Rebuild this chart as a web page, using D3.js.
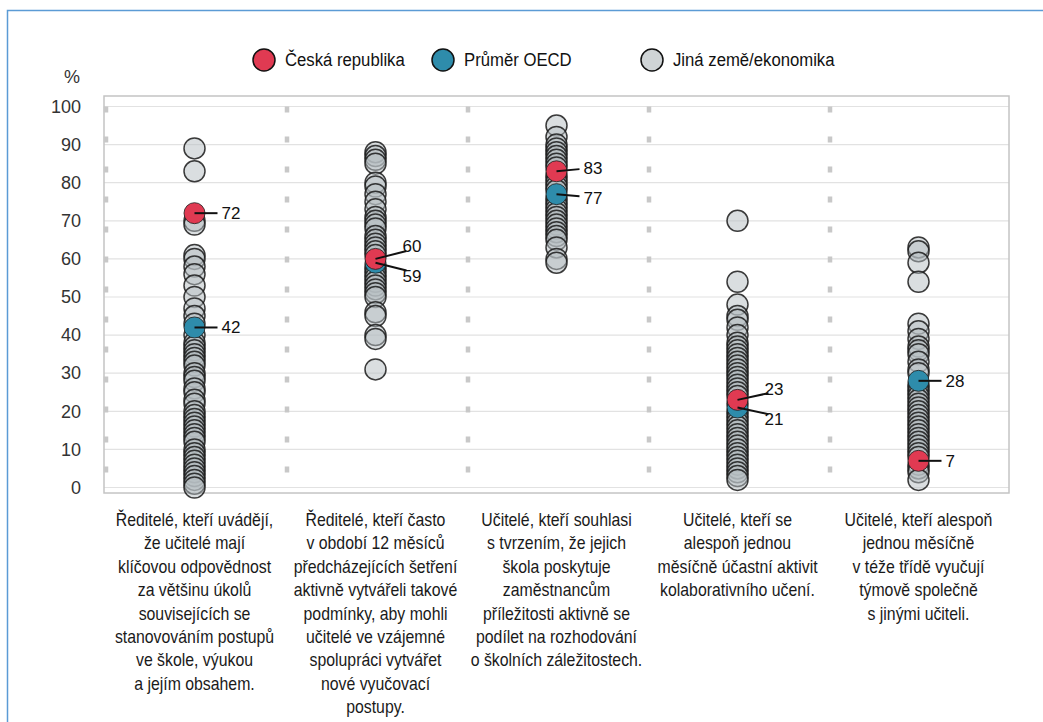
<!DOCTYPE html>
<html>
<head>
<meta charset="utf-8">
<script src="https://cdn.jsdelivr.net/npm/d3@7"></script>
<style>
  body { margin: 0; background: #fff; }
  svg { display: block; }
  .narrow { font-family: "Liberation Sans Narrow", "Arial Narrow", "Liberation Sans", Arial, sans-serif; }
  .reg { font-family: "Liberation Sans", Arial, sans-serif; }
</style>
</head>
<body>
<div class="chart"></div>
<script>
// Categories (x axis text, one line per entry)
const categories = [
  ["Ředitelé, kteří uvádějí,", "že učitelé mají", "klíčovou odpovědnost", "za většinu úkolů",
   "souvisejících se", "stanovováním postupů", "ve škole, výukou", "a jejím obsahem."],
  ["Ředitelé, kteří často", "v období 12 měsíců", "předcházejících šetření", "aktivně vytvářeli takové",
   "podmínky, aby mohli", "učitelé ve vzájemné", "spolupráci vytvářet", "nové vyučovací", "postupy."],
  ["Učitelé, kteří souhlasi", "s tvrzením, že jejich", "škola poskytuje", "zaměstnancům",
   "příležitosti aktivně se", "podílet na rozhodování", "o školních záležitostech."],
  ["Učitelé, kteří se", "alespoň jednou", "měsíčně účastní aktivit", "kolaborativního učení."],
  ["Učitelé, kteří alespoň", "jednou měsíčně", "v téže třídě vyučují", "týmově společně", "s jinými učiteli."]
];

// Česká republika and OECD average per category
const czValues = [72, 60, 83, 23, 7];
const oecdValues = [42, 59, 77, 21, 28];

// Other countries / economies per category
const otherValues = [
  [89, 83, 70, 69, 61, 60, 58, 56, 53, 50, 47, 45, 43, 40, 38, 37, 36, 35, 34, 33, 32, 30, 29, 28,
   26, 25, 23, 22, 20, 19, 18, 17, 16, 15, 14, 13, 12, 10, 9, 8, 7, 6, 5, 4, 3, 2, 1, 0],
  [88, 87, 86, 85, 80, 79, 77, 75, 73, 71, 70, 69, 68, 66, 65, 64, 63, 62, 61, 58, 57, 56, 55,
   54, 53, 52, 51, 50, 46, 45, 40, 39, 31],
  [95, 92, 90, 89, 88, 87, 86, 85, 84, 82, 81, 80, 79, 78, 76, 75, 74, 73, 72, 71, 70, 69, 68,
   67, 66, 65, 63, 60, 59],
  [70, 54, 48, 45, 44, 42, 40, 38, 37, 36, 35, 34, 33, 32, 31, 30, 29, 28, 27, 26, 25, 24, 22,
   20, 19, 18, 17, 16, 15, 14, 13, 12, 11, 10, 9, 8, 7, 6, 5, 4, 3, 2],
  [63, 62, 59, 54, 43, 41, 39, 37, 36, 35, 33, 31, 30, 27, 26, 25, 24, 23, 22, 21, 20, 19, 18,
   17, 16, 15, 14, 13, 12, 11, 10, 9, 8, 6, 5, 4, 2]
];

const yTicks = [0, 10, 20, 30, 40, 50, 60, 70, 80, 90, 100];

const legendItems = [
  { name: "Česká republika", color: "#e03a52" },
  { name: "Průměr OECD", color: "#2e8cab" },
  { name: "Jiná země/ekonomika", color: "#cfd4d6" }
];

const W = 1043, H = 722;
const plot = { left: 104, right: 1009, top: 96, bottom: 493 };
const R = 10.5;
const squeeze = 0.88; // the original uses a narrow typeface

const svg = d3.select(".chart")
  .append("svg")
    .attr("width", W)
    .attr("height", H);

// outer frame
svg.append("rect")
  .attr("x", 7.5).attr("y", 10.5)
  .attr("width", W + 10).attr("height", H + 10)
  .attr("fill", "none")
  .attr("stroke", "#5b9bd5")
  .attr("stroke-width", 1.5);

const x = d3.scaleBand()
  .domain(d3.range(categories.length))
  .range([plot.left, plot.right]);

const y = d3.scaleLinear()
  .domain([0, 100])
  .range([487.5, 106.5]);

// gridlines
svg.append("g")
  .selectAll("line")
  .data(yTicks)
  .join("line")
    .attr("x1", plot.left).attr("x2", plot.right)
    .attr("y1", d => y(d)).attr("y2", d => y(d))
    .attr("stroke", "#e2e2e2")
    .attr("stroke-width", 1.2);

// plot frame
svg.append("rect")
  .attr("x", plot.left).attr("y", plot.top)
  .attr("width", plot.right - plot.left)
  .attr("height", plot.bottom - plot.top)
  .attr("fill", "none")
  .attr("stroke", "#c4c4c4")
  .attr("stroke-width", 1.5);

// dotted separators between categories (and on the left edge)
svg.append("g")
  .selectAll("line")
  .data(d3.range(categories.length))
  .join("line")
    .attr("x1", d => x(d) + 2).attr("x2", d => x(d) + 2)
    .attr("y1", y(100)).attr("y2", plot.bottom)
    .attr("stroke", "#c8c8c8")
    .attr("stroke-width", 4.5)
    .attr("stroke-dasharray", "6,24");

// y axis
const yAxis = d3.axisLeft(y)
  .tickValues(yTicks)
  .tickSize(0)
  .tickPadding(0);

svg.append("g")
  .attr("transform", "translate(81,0)")
  .call(yAxis)
  .call(g => g.select(".domain").remove())
  .call(g => g.selectAll("text")
    .attr("class", "reg")
    .attr("font-size", 18)
    .attr("fill", "#333"));

svg.append("text")
  .attr("class", "reg")
  .attr("x", 72).attr("y", 83)
  .attr("text-anchor", "middle")
  .attr("font-size", 18)
  .attr("fill", "#333")
  .text("%");

// legend
const legendX = [264, 443, 652];
const legend = svg.append("g")
  .selectAll("g")
  .data(legendItems)
  .join("g")
    .attr("transform", (d, i) => `translate(${legendX[i]},60)`);

legend.append("circle")
  .attr("r", 11)
  .attr("fill", d => d.color)
  .attr("stroke", "#111")
  .attr("stroke-width", 1.5);

legend.append("text")
  .attr("class", "narrow")
  .attr("transform", `translate(21,6) scale(${squeeze},1)`)
  .attr("font-size", 19)
  .attr("fill", "#111")
  .text(d => d.name);

// other countries
const others = otherValues.flatMap((vals, i) => vals.map(v => ({ i, v })));
svg.append("g")
  .selectAll("circle")
  .data(others)
  .join("circle")
    .attr("cx", d => x(d.i) + x.bandwidth() / 2)
    .attr("cy", d => y(d.v))
    .attr("r", R)
    .attr("fill", "#b6bec1")
    .attr("fill-opacity", 0.5)
    .attr("stroke", "#1a1a1a")
    .attr("stroke-opacity", 0.85)
    .attr("stroke-width", 1.5);

// OECD average dots
svg.append("g")
  .selectAll("circle")
  .data(oecdValues)
  .join("circle")
    .attr("cx", (d, i) => x(i) + x.bandwidth() / 2)
    .attr("cy", d => y(d))
    .attr("r", R)
    .attr("fill", legendItems[1].color)
    .attr("stroke", "#1a1a1a")
    .attr("stroke-width", 0.8);

// Czech Republic dots
svg.append("g")
  .selectAll("circle")
  .data(czValues)
  .join("circle")
    .attr("cx", (d, i) => x(i) + x.bandwidth() / 2)
    .attr("cy", d => y(d))
    .attr("r", R)
    .attr("fill", legendItems[0].color)
    .attr("stroke", "#1a1a1a")
    .attr("stroke-width", 0.8);

// value labels for CZ and OECD, with leader lines
const labels = svg.append("g");
czValues.forEach((cz, i) => {
  const cx = x(i) + x.bandwidth() / 2;
  const pts = [cz, oecdValues[i]].map(v => ({ v, dy: y(v), ly: y(v) }));
  const gap = 30;
  if (Math.abs(pts[0].dy - pts[1].dy) < gap) {
    const mid = (pts[0].dy + pts[1].dy) / 2;
    const up = pts[0].v >= pts[1].v ? 0 : 1;
    pts[up].ly = mid - gap / 2;
    pts[1 - up].ly = mid + gap / 2;
  }
  pts.forEach(p => {
    const ex = cx + (Math.abs(p.ly - p.dy) > 8 ? 31 : 23);
    const ey = p.ly + (p.dy - p.ly) * 0.4;
    labels.append("line")
      .attr("x1", cx).attr("y1", p.dy)
      .attr("x2", ex).attr("y2", ey)
      .attr("stroke", "#111")
      .attr("stroke-width", 2);
    labels.append("text")
      .attr("class", "reg")
      .attr("x", cx + 27)
      .attr("y", p.ly + 6)
      .attr("font-size", 17)
      .attr("fill", "#111")
      .text(p.v);
  });
});

// category texts under the plot
svg.append("g")
  .selectAll("text")
  .data(categories)
  .join("text")
    .attr("class", "narrow")
    .attr("text-anchor", "middle")
    .attr("font-size", 18)
    .attr("fill", "#1a1a1a")
    .attr("transform", (d, i) => `translate(${x(i) + x.bandwidth() / 2},526) scale(${squeeze},1)`)
  .selectAll("tspan")
  .data(d => d)
  .join("tspan")
    .attr("x", 0)
    .attr("dy", (d, i) => i === 0 ? 0 : 23.4)
    .text(d => d);
</script>
</body>
</html>
